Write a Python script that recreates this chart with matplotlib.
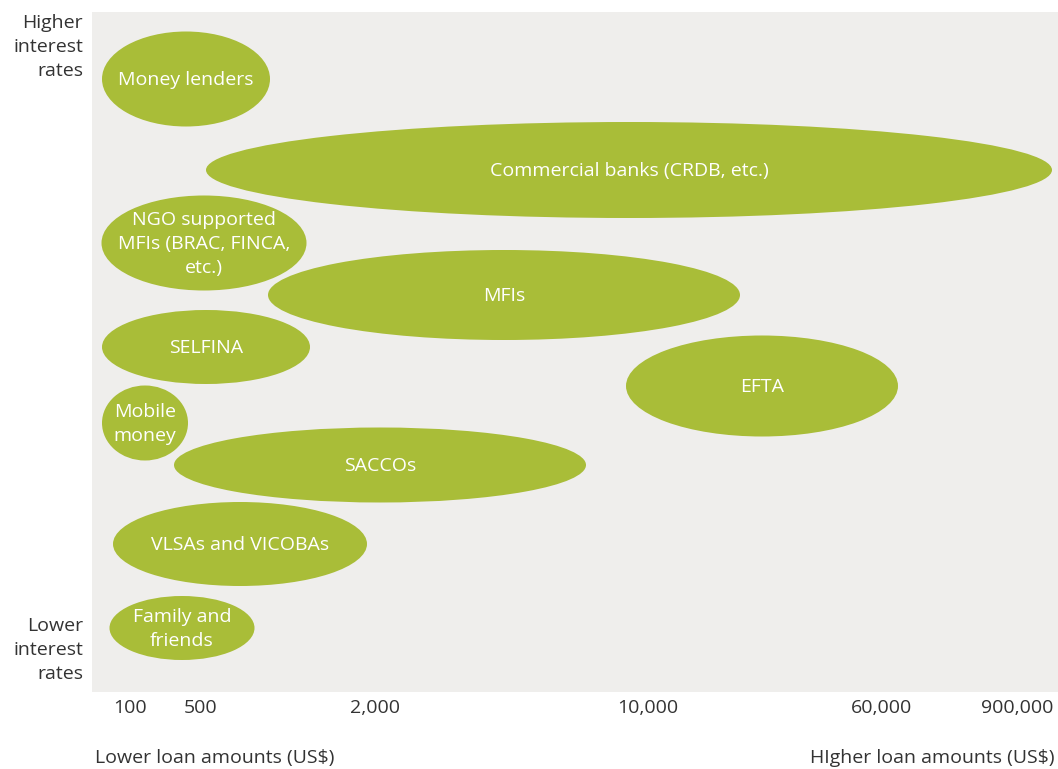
import matplotlib.pyplot as plt
from matplotlib.patches import Ellipse

# provider bubbles: label, centre (x, y), width, height  (x/y in chart units)
labels = ["Money lenders", "Commercial banks (CRDB, etc.)",
          "NGO supported\nMFIs (BRAC, FINCA,\netc.)", "MFIs", "SELFINA", "EFTA",
          "Mobile\nmoney", "SACCOs", "VLSAs and VICOBAs", "Family and\nfriends"]
cx = [186, 629, 204, 504, 206, 762, 145, 380, 240, 182]
cy = [79, 170, 243, 295, 347, 386, 423, 465, 544, 628]
ew = [168, 846, 205, 472, 208, 272, 86, 412, 254, 145]
eh = [95, 96, 95, 90, 74, 101, 75, 75, 84, 64]

tick_pos = [130, 201, 375, 648, 882, 1017]
tick_labels = ["100", "500", "2,000", "10,000", "60,000", "900,000"]

green = "#a9bd38"
dark = "#333333"
fs = 14
ls = 1.42
plt.rcParams['font.family'] = ['Open Sans', 'DejaVu Sans']

fig = plt.figure(figsize=(10.58, 7.69), dpi=100)
ax = fig.add_axes([92 / 1058, 1 - 692 / 769, 966 / 1058, 680 / 769])
ax.set_xlim(92, 1058)
ax.set_ylim(692, 12)
ax.set_facecolor("#efeeec")
for s in ax.spines.values():
    s.set_visible(False)

for lab, x, y, w, h in zip(labels, cx, cy, ew, eh):
    ax.add_patch(Ellipse((x, y), w, h, facecolor=green, edgecolor="none"))
    ax.text(x, y + 1, lab, ha="center", va="center", color="white",
            fontsize=fs, linespacing=ls)

ax.set_yticks([])
ax.set_xticks(tick_pos)
ax.set_xticklabels(tick_labels, fontsize=fs, color=dark)
ax.tick_params(axis="x", length=0, pad=5)

fig.text(83 / 1058, 1 - 47 / 769, "Higher\ninterest\nrates", ha="right", va="center",
         fontsize=fs, color=dark, linespacing=ls)
fig.text(83 / 1058, 1 - 650 / 769, "Lower\ninterest\nrates", ha="right", va="center",
         fontsize=fs, color=dark, linespacing=ls)
fig.text(95 / 1058, 1 - 758 / 769, "Lower loan amounts (US$)", ha="left", va="center",
         fontsize=fs, color=dark)
fig.text(1055 / 1058, 1 - 758 / 769, "HIgher loan amounts (US$)", ha="right", va="center",
         fontsize=fs, color=dark)

fig.savefig("out.png", dpi=100)
